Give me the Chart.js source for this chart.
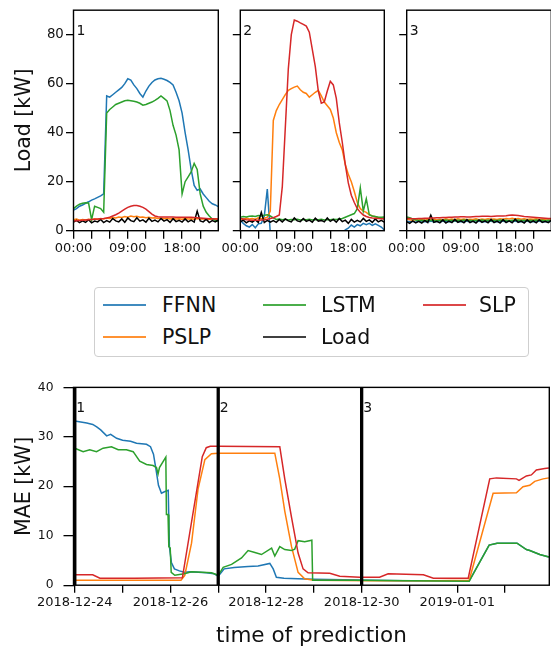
<!DOCTYPE html>
<html><head><meta charset="utf-8">
<script src="https://cdn.jsdelivr.net/npm/chart.js@4.4.1/dist/chart.umd.min.js"></script>
<style>
html,body{margin:0;padding:0;width:551px;height:649px;overflow:hidden;background:#fff;font-family:'DejaVu Sans',sans-serif;}
canvas{position:absolute;}
.lg{position:absolute;font-size:20.5px;line-height:1;color:#111;white-space:nowrap;}
.lh{position:absolute;height:2px;width:43px;}
</style></head>
<body>
<canvas id="c1" width="226" height="265" style="left:0px;top:0px"></canvas>
<canvas id="c2" width="192" height="265" style="left:200px;top:0px"></canvas>
<canvas id="c3" width="189" height="265" style="left:370px;top:0px"></canvas>
<canvas id="c4" width="551" height="279" style="left:0px;top:370px"></canvas>
<div id="legend" style="position:absolute;left:94px;top:287px;width:435px;height:70px;box-sizing:border-box;border:1.5px solid #cfcfcf;border-radius:4px;"></div>
<script>
// ---------- data ----------
const seriesNames = ['FFNN','PSLP','LSTM','Load','SLP'];
const hours = [0,0.5,1,1.5,2,2.5,3,3.5,4,4.5,5,5.5,6,6.5,7,7.5,8,8.5,9,9.5,10,10.5,11,11.5,12,12.5,13,13.5,14,14.5,15,15.5,16,16.5,17,17.5,18,18.5,19,19.5,20,20.5,21,21.5,22,22.5,23,23.5,24];
const hourTicks = [0,3,6,9,12,15,18,21];
const hourTickLabels = ['00:00','','','09:00','','','18:00',''];
const loadTicks = [0,20,40,60,80];

// panel 1
const p1FFNN = [8.4,9.0,10.0,10.5,11.2,11.8,12.5,13.0,13.6,14.2, 15.0,55.0,54.5,55.5,56.5,57.5,58.5,60.0,62.0,61.5, 59.5,58.0,56.0,54.5,57.0,59.0,60.5,61.5,62.0,62.2, 61.8,61.3,60.5,59.5,56.5,53.0,48.0,40.0,33.0,25.0, 18.5,16.5,17.0,15.0,13.5,12.0,11.0,10.5,9.8];
const p1PSLP = [4.5,4.8,4.3,4.6,4.4,4.7,4.5,4.9,4.6,5.0, 4.8,5.2,5.0,5.4,5.2,5.6,5.4,5.8,5.5,6.0, 5.7,5.9,5.5,5.6,5.3,5.5,5.2,5.3,5.0,5.2, 4.9,5.1,4.8,5.0,4.8,4.9,4.7,5.0,4.8,4.9, 4.7,5.0,4.8,4.9,4.6,4.8,4.7,4.9,4.8];
const p1LSTM = [9.0,10.0,10.8,11.2,11.4,11.3,4.5,10.0,9.5,9.0, 7.5,48.0,49.5,50.5,51.5,52.0,52.5,53.0,53.2,53.0, 52.8,52.5,52.0,51.2,51.5,52.0,52.5,53.2,54.0,55.0, 54.0,53.0,49.0,43.0,39.0,33.0,15.0,20.0,22.0,24.0, 27.5,25.0,15.0,10.0,7.5,6.0,4.8,4.2,3.7];
const p1Load = [3.5,4.2,3.3,4.0,3.4,4.5,3.2,3.9,3.6,4.6, 3.3,4.1,3.5,5.0,4.0,3.6,4.8,3.4,5.2,4.1, 3.7,5.3,3.9,4.4,3.5,5.1,3.8,4.3,3.6,5.0, 3.9,4.5,3.4,4.9,3.7,4.2,3.5,4.8,3.6,4.3, 3.5,8.0,4.0,3.6,4.7,3.3,4.1,3.6,4.4];
const p1SLP = [4.0,4.1,4.2,4.3,4.4,4.5,4.6,4.7,4.8,4.9, 5.0,5.2,5.5,6.0,6.5,7.2,8.0,8.8,9.5,10.0, 10.3,10.3,10.0,9.5,8.8,7.8,6.8,6.0,5.7,5.6, 5.6,5.6,5.6,5.6,5.5,5.5,5.5,5.5,5.5,5.5, 5.4,5.3,5.2,5.1,5.0,4.9,4.9,4.8,4.8];

// panel 2
const p2FFNN = [4.3,3.0,2.0,1.5,2.5,1.2,2.8,3.0,6.0,17.0, -1,-1,-1,-1,-1,-1,-1,-1,-1,-1, -1,-1,-1,-1,-1,-1,-1,-1,-1,-1, -1,-1,-1,-1,-1,0.3,1.0,2.3,1.5,2.5, 2.0,3.0,2.5,3.0,2.2,2.8,2.2,1.5,0.3];
const p2PSLP = [5.0,4.6,5.2,4.8,5.0,4.7,5.3,4.9,5.1,5.5, 8.0,45.0,49.0,51.5,53.5,55.5,57.3,58.0,58.6,59.0, 57.5,56.5,56.0,54.5,55.5,56.5,57.3,55.0,52.5,51.0, 49.5,46.0,40.0,36.0,33.0,27.0,23.0,20.0,16.0,11.5, 9.0,8.0,7.5,6.5,6.0,5.7,5.4,5.3,5.2];
const p2LSTM = [5.5,5.8,5.6,5.9,6.0,5.8,6.2,6.0,6.3,6.5, 6.0,5.2,4.6,4.8,4.5,4.7,4.4,4.6,4.5,4.7, 4.4,4.6,4.5,4.7,4.4,4.6,4.5,4.7,4.4,4.6, 4.5,4.7,4.6,4.8,5.0,5.5,6.0,6.5,7.0,9.0, 17.5,8.0,13.0,6.5,6.0,5.8,5.5,5.5,5.6];
const p2Load = [3.6,4.3,3.2,4.0,3.5,4.4,3.4,7.5,3.3,4.2, 3.5,4.1,3.4,4.6,3.6,4.8,4.0,3.6,5.2,4.0, 3.7,5.0,3.8,4.3,3.5,5.1,3.9,4.2,3.6,5.2, 3.8,4.6,3.5,5.0,3.7,4.3,3.0,4.6,3.5,4.2, 3.6,5.0,3.8,4.4,3.4,4.8,3.6,4.2,3.5];
const p2SLP = [5.0,4.8,4.5,4.4,4.3,4.3,4.3,4.4,4.5,4.7, 5.0,5.3,5.8,6.4,18.0,42.0,66.0,80.0,86.0,85.5, 84.8,84.2,83.5,81.0,74.0,67.0,57.0,52.0,52.5,57.0, 61.0,59.5,54.0,44.0,36.0,27.0,19.5,14.5,11.5,9.0, 7.5,6.4,5.8,5.4,5.2,5.1,5.0,4.9,4.8];

// panel 3
const p3FFNN = [3.9,3.7,3.8,3.5,3.9,3.6,3.8,3.7,3.9,3.6, 3.8,3.5,3.9,3.7,3.8,3.6,4.0,3.7,3.8,3.6, 3.9,3.7,3.8,3.5,3.9,3.7,3.8,3.6,3.9,3.7, 3.8,3.6,3.9,3.7,3.9,3.6,3.9,3.7,3.8,3.6, 3.9,3.7,3.8,3.6,3.9,3.7,3.8,3.6,3.9];
const p3PSLP = [4.8,4.5,4.3,4.6,4.4,4.7,4.3,4.6,4.5,4.8, 4.4,4.7,4.5,4.9,4.6,4.8,4.5,4.9,4.6,4.8, 4.5,4.7,4.6,4.9,4.5,4.8,4.6,4.9,4.7,4.8, 4.6,4.9,4.7,5.0,4.8,5.1,4.8,5.0,4.7,4.9, 4.6,4.8,4.7,4.9,4.6,4.8,4.7,4.9,4.8];
const p3LSTM = [5.6,5.3,4.8,4.4,4.2,4.3,4.1,4.2,4.3,4.2, 4.1,4.3,4.2,4.4,4.2,4.3,4.1,4.3,4.2,4.4, 4.2,4.3,4.1,4.3,4.2,4.4,4.2,4.3,4.1,4.3, 4.2,4.4,4.2,4.3,4.1,4.3,4.2,4.4,4.2,4.3, 4.1,4.3,4.2,4.4,4.2,4.3,4.1,4.3,4.2];
const p3Load = [3.6,3.0,4.0,3.2,3.8,3.1,4.2,3.3,6.3,3.4, 3.8,3.2,4.4,3.1,3.9,3.3,4.6,3.4,4.0,3.2, 4.5,3.3,3.9,3.1,4.4,3.4,4.0,3.2,4.6,3.3, 3.9,3.1,4.5,3.3,4.0,3.2,4.7,3.4,3.9,3.1, 4.4,3.3,4.0,3.2,4.5,3.4,3.8,3.3,4.3];
const p3SLP = [5.0,5.0,4.9,4.9,5.0,5.0,5.1,5.1,5.2,5.2, 5.3,5.3,5.4,5.4,5.5,5.5,5.6,5.6,5.7,5.7, 5.6,5.6,5.7,5.8,5.8,5.9,5.9,5.9,5.8,5.9, 6.0,6.0,6.0,6.1,6.3,6.4,6.3,6.2,6.0,5.8, 5.7,5.6,5.5,5.4,5.3,5.2,5.1,5.0,5.0];

// bottom panel (hours since 2018-12-24 00:00)
const dayTicks = [0,24,48,72,96,120,144,168,192,216];
const dateLabels = ['2018-12-24','','2018-12-26','','2018-12-28','','2018-12-30','','2019-01-01',''];
const maeTicks = [0,10,20,30,40];
const dayMarks = [0,72,144];
const dayMarkNames = ['1','2','3'];

const bFFNN_t = [0,3,6,9,11,13,16,18,21,24, 28,31,36,38,39.5,41,42,43.5,45,46.9, 47.5,48.5,50,52.5,55,58,62,66,70,72, 75,80,87,92,97.9,99.6,101.2,105,112,120, 135,150,165,180,198,208,212,222,226.7,228.4, 233.4,238];
const bFFNN_v = [33.2,33.0,32.8,32.5,32.0,31.4,30.2,30.5,29.7,29.3, 29.1,28.7,28.5,28.0,26.5,22.8,20.2,18.6,18.9,19.2, 7.8,4.6,3.3,2.9,2.6,2.7,2.6,2.5,2.3,1.8, 3.3,3.6,3.8,3.9,4.4,3.3,1.6,1.4,1.3,1.2, 1.1,1.0,0.9,0.9,0.9,8.1,8.5,8.5,7.2,7.0, 6.2,5.7];
const bLSTM_t = [0,4.2,7.5,10.9,14.2,18.4,21.8,25.9,29.3,32.6, 36,39.3,41,41.8,42.5,45.7,46,46.8,47.2,47.9, 48.4,50.2,55,58.6,63.7,68.6,72,74.5,78.7,83.7, 87,90.4,93.7,98.8,100.4,102.9,105.4,108.8,110.4,112.1, 115.4,119,119.4,140,170,198,208,212,222,226.7, 228.4,233.4,238];
const bLSTM_v = [27.7,27.0,27.4,27.0,27.7,28.0,27.4,27.4,27.0,25.1, 24.4,24.2,23.8,22.5,23.8,25.9,14.3,14.3,7.8,7.5, 2.6,2.0,2.3,2.7,2.6,2.5,2.0,3.6,4.2,5.5, 7.0,6.6,6.2,7.5,5.9,7.8,7.2,7.0,7.3,9.0, 8.8,9.1,1.0,1.0,0.9,0.8,8.1,8.5,8.5,7.2, 7.0,6.2,5.7];
const bSLP_t = [0,9,12.6,30,54,64,66,68,72,102.9, 105.4,108.8,112.1,114.6,117.1,128,133,143,153,157.3, 175,180,197.5,204.1,208.3,211.7,221.7,223,226.7,229.2, 231.7,235.9,238];
const bSLP_v = [2.1,2.1,1.4,1.4,1.5,26,27.8,28.1,28.1,28.0, 21.5,13.7,6.5,3.3,2.5,2.4,1.8,1.6,1.6,2.3, 2.1,1.4,1.4,13.7,21.5,21.7,21.5,21.2,22.1,22.3, 23.3,23.6,23.7];
const bPSLP_t = [0,53.3,55.2,58.6,61.9,65.3,68.6,72,100.4,102.9, 105.4,108.8,112.1,115.4,120,150,180,198,210,221.7, 225,228.4,230.9,235.1,238];
const bPSLP_v = [1.0,1.0,2.0,8.5,19.5,25.4,26.6,26.7,26.7,21.5, 15.0,7.8,2.6,1.3,1.0,0.9,0.9,1.0,18.6,18.7, 19.9,20.2,21.0,21.5,21.7];

// ---------- drawing ----------
const COL = {FFNN:'#1f77b4', PSLP:'#ff7f0e', LSTM:'#2ca02c', Load:'#000000', SLP:'#d62728'};
const ORD = {FFNN:5, PSLP:4, LSTM:3, Load:2, SLP:1};
Chart.defaults.font.family = "'DejaVu Sans', sans-serif";
Chart.defaults.color = '#111';

const deco = {
  id:'deco',
  afterDatasetsDraw(chart, args, o) {
    const {ctx, chartArea:a, scales:{x, y}} = chart;
    ctx.save();
    ctx.strokeStyle = '#000';
    (o.vlines || []).forEach(t => {
      const px = x.getPixelForValue(t);
      ctx.beginPath(); ctx.lineWidth = 3.3;
      ctx.moveTo(px, a.top); ctx.lineTo(px, a.bottom); ctx.stroke();
    });
    ctx.lineWidth = 1.4;
    ctx.strokeRect(a.left, a.top, a.right - a.left, a.bottom - a.top);
    ctx.fillStyle = '#111';
    ctx.font = '14px "DejaVu Sans"';
    ctx.textAlign = 'left'; ctx.textBaseline = 'alphabetic';
    (o.labels || []).forEach(l => {
      const px = Math.max(x.getPixelForValue(l.x), a.left);
      ctx.fillText(l.text, px + l.dx, y.getPixelForValue(l.y));
    });
    ctx.restore();
  }
};
Chart.register(deco);

function xy(xs, ys) { return ys.map((v, i) => ({x: xs[i], y: v})); }
function ds(name, xs, ys) {
  return {label:name, data:xy(xs, ys), borderColor:COL[name], borderWidth:1.5,
          pointRadius:0, tension:0, fill:false, order:ORD[name]};
}
function tickGrid(len) {
  return {drawOnChartArea:false, drawTicks:true, tickLength:len, color:'#000', lineWidth:1.3};
}

function topPanel(id, yW, padR, s, tag, showY) {
  new Chart(document.getElementById(id), {
    type:'line',
    data:{datasets:[ds('FFNN', hours, s.FFNN), ds('PSLP', hours, s.PSLP), ds('LSTM', hours, s.LSTM),
                    ds('Load', hours, s.Load), ds('SLP', hours, s.SLP)]},
    options:{
      responsive:false, animation:false, events:[],
      layout:{padding:{top:10, right:padR, left:0, bottom:0}},
      plugins:{legend:{display:false}, tooltip:{enabled:false},
               deco:{labels:[{text:tag, x:0, dx:3, y:80}]}},
      scales:{
        x:{type:'linear', position:'bottom', min:0, max:24,
           afterBuildTicks:sc => { sc.ticks = hourTicks.map(v => ({value:v})); },
           afterFit:sc => { sc.height = 34.3; },
           ticks:{autoSkip:false, maxRotation:0, minRotation:0, padding:2, font:{size:13}, color:'#111',
                  callback:(v, i) => hourTickLabels[i]},
           grid:tickGrid(8), border:{display:false}},
        y:{type:'linear', position:'left', min:0, max:90,
           afterBuildTicks:sc => { sc.ticks = loadTicks.map(v => ({value:v})); },
           afterFit:sc => { sc.width = yW; },
           ticks:{padding:2.2, font:{size:13.3}, color:'#111',
                  callback:(v, i) => showY ? String(loadTicks[i]) : ''},
           grid:tickGrid(7.5), border:{display:false},
           title:{display:showY, text:'Load [kW]', font:{size:20.5}, color:'#111', padding:{top:12.5, bottom:0}}}
      }
    }
  });
}

topPanel('c1', 73.5, 7.7, {FFNN:p1FFNN, PSLP:p1PSLP, LSTM:p1LSTM, Load:p1Load, SLP:p1SLP}, '1', true);
topPanel('c2', 40.3, 7.7, {FFNN:p2FFNN, PSLP:p2PSLP, LSTM:p2LSTM, Load:p2Load, SLP:p2SLP}, '2', false);
topPanel('c3', 36.7, 7.7, {FFNN:p3FFNN, PSLP:p3PSLP, LSTM:p3LSTM, Load:p3Load, SLP:p3SLP}, '3', false);

new Chart(document.getElementById('c4'), {
  type:'line',
  data:{datasets:[ds('FFNN', bFFNN_t, bFFNN_v), ds('PSLP', bPSLP_t, bPSLP_v),
                  ds('LSTM', bLSTM_t, bLSTM_v), ds('SLP', bSLP_t, bSLP_v)]},
  options:{
    responsive:false, animation:false, events:[],
    layout:{padding:{top:10, right:1.7, left:0, bottom:0}},
    plugins:{legend:{display:false}, tooltip:{enabled:false},
             deco:{vlines:dayMarks, labels:dayMarks.map((t, i) => ({text:dayMarkNames[i], x:t, dx:1.5, y:35}))}},
    scales:{
      x:{type:'linear', position:'bottom', min:-0.65, max:238.2,
         afterBuildTicks:sc => { sc.ticks = dayTicks.map(v => ({value:v})); },
         afterFit:sc => { sc.height = 63.8; },
         ticks:{autoSkip:false, maxRotation:0, minRotation:0, padding:2, font:{size:13}, color:'#111',
                callback:(v, i) => dateLabels[i]},
         grid:tickGrid(7.5), border:{display:false},
         title:{display:true, text:'time of prediction', font:{size:21.5}, color:'#111', padding:{top:0, bottom:0}}},
      y:{type:'linear', position:'left', min:0, max:40,
         afterBuildTicks:sc => { sc.ticks = maeTicks.map(v => ({value:v})); },
         afterFit:sc => { sc.width = 73.5; },
         ticks:{padding:10, font:{size:12.3}, color:'#111', callback:(v, i) => String(maeTicks[i])},
         grid:tickGrid(10), border:{display:false},
         title:{display:true, text:'MAE [kW]', font:{size:20.5}, color:'#111', padding:{top:12.3, bottom:0}}}
    }
  }
});

// legend (matplotlib column-major order, 3 columns)
const lg = [
  {name:'FFNN', col:0, row:0}, {name:'PSLP', col:0, row:1},
  {name:'LSTM', col:1, row:0}, {name:'Load', col:1, row:1},
  {name:'SLP', col:2, row:0}
];
const colHandleX = [103, 263, 423];
const colTextX = [162, 321, 479];
const rowY = [305, 337];
lg.forEach(e => {
  const h = document.createElement('div');
  h.className = 'lh';
  h.style.left = colHandleX[e.col] + 'px';
  h.style.top = (rowY[e.row] - 1) + 'px';
  h.style.background = COL[e.name];
  h.style.opacity = e.name === 'Load' ? '0.75' : '0.85';
  document.body.appendChild(h);
  const t = document.createElement('div');
  t.className = 'lg';
  t.textContent = e.name;
  t.style.left = colTextX[e.col] + 'px';
  t.style.top = (rowY[e.row] - 10) + 'px';
  document.body.appendChild(t);
});
</script>
</body></html>
